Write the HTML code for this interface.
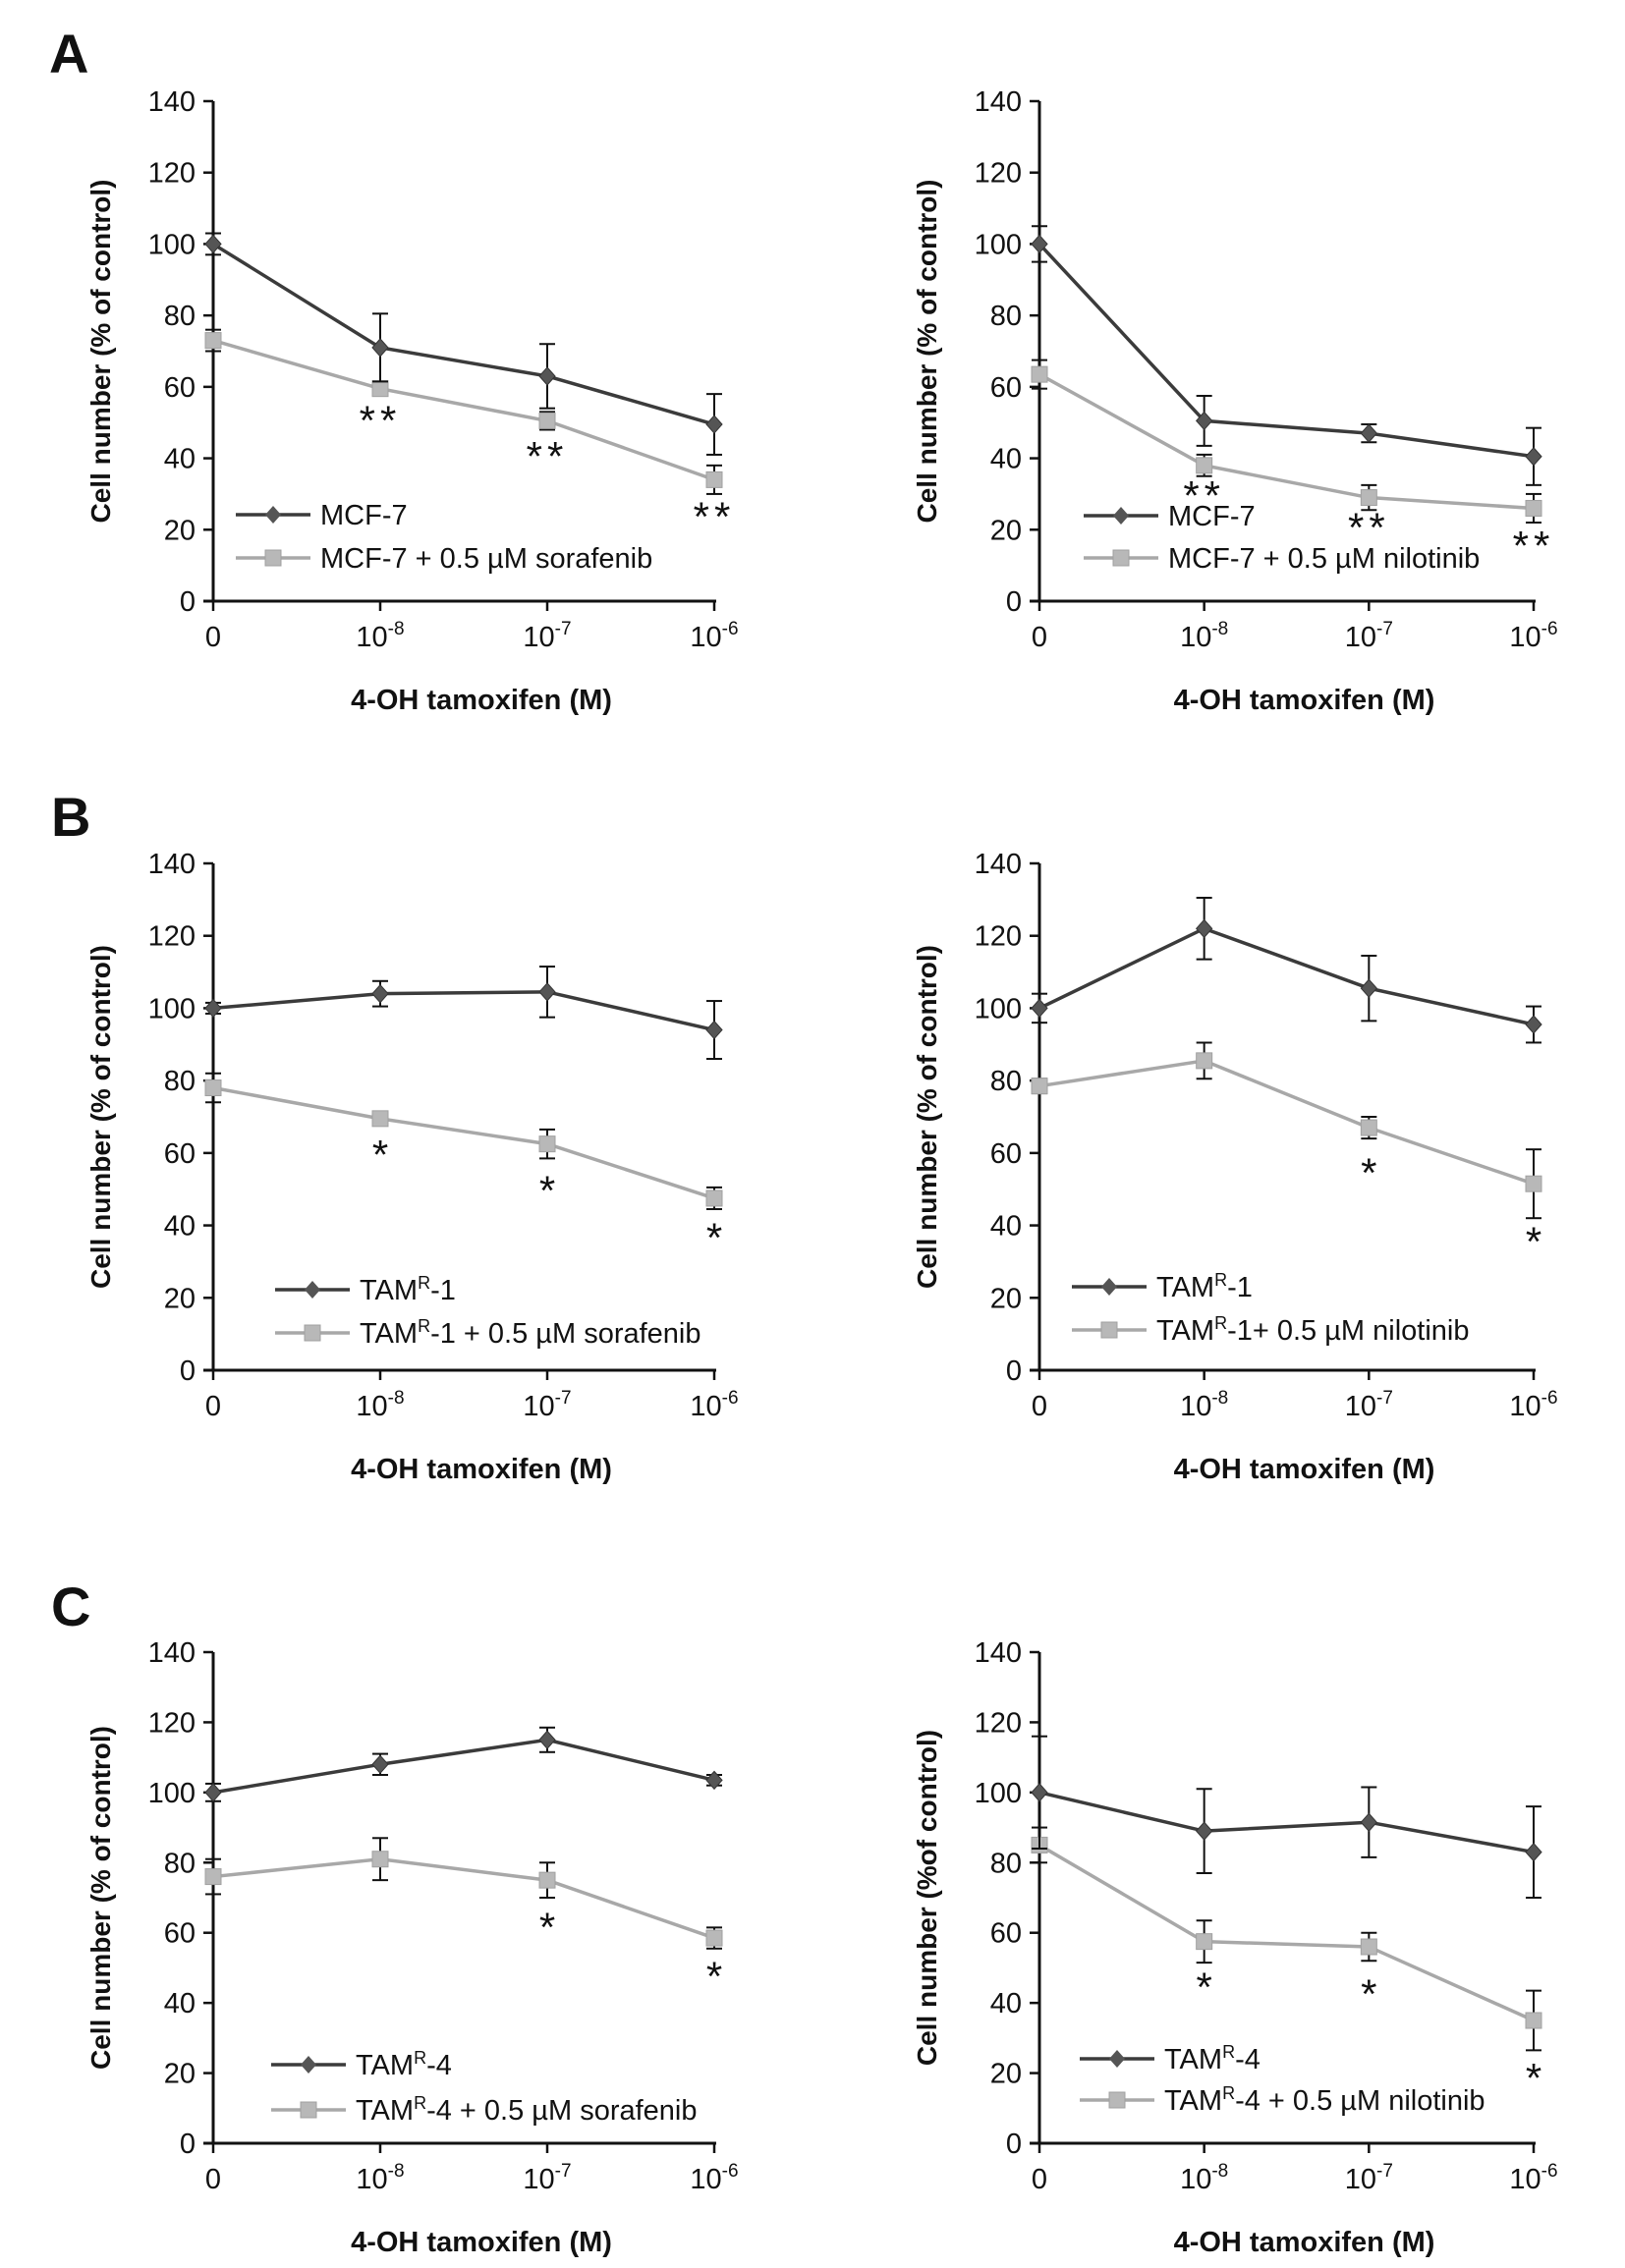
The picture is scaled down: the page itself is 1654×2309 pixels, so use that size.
<!DOCTYPE html>
<html><head><meta charset="utf-8">
<style>
html,body{margin:0;padding:0;background:#fff;}
svg{display:block;font-family:"Liberation Sans",sans-serif;}
</style></head>
<body>
<svg id="fig" width="1654" height="2309" viewBox="0 0 1654 2309" xmlns="http://www.w3.org/2000/svg"></svg>
<script>
// shared categories / ticks
const categories = ["0", "-8", "-7", "-6"];
const yTicks = [0, 20, 40, 60, 80, 100, 120, 140];

// Panel A left
const aL_black = [100, 71, 63, 49.5];
const aL_blackErr = [3, 9.5, 9, 8.5];
const aL_gray = [73, 59.5, 50.5, 34];
const aL_grayErr = [3, 1.5, 2.5, 4];
const aL_stars = [null, 51, 41, 24];
// Panel A right
const aR_black = [100, 50.5, 47, 40.5];
const aR_blackErr = [5, 7, 2.5, 8];
const aR_gray = [63.5, 38, 29, 26];
const aR_grayErr = [4, 3, 3.5, 4];
const aR_stars = [null, 30, 21, 16];
// Panel B left
const bL_black = [100, 104, 104.5, 94];
const bL_blackErr = [1.5, 3.5, 7, 8];
const bL_gray = [78, 69.5, 62.5, 47.5];
const bL_grayErr = [4, 1, 4, 3];
const bL_stars = [null, 60, 50, 37];
// Panel B right
const bR_black = [100, 122, 105.5, 95.5];
const bR_blackErr = [4, 8.5, 9, 5];
const bR_gray = [78.5, 85.5, 67, 51.5];
const bR_grayErr = [2, 5, 3, 9.5];
const bR_stars = [null, null, 55, 36];
// Panel C left
const cL_black = [100, 108, 115, 103.5];
const cL_blackErr = [2.5, 3, 3.5, 1.5];
const cL_gray = [76, 81, 75, 58.5];
const cL_grayErr = [5, 6, 5, 3];
const cL_stars = [null, null, 62, 48];
// Panel C right
const cR_black = [100, 89, 91.5, 83];
const cR_blackErr = [16, 12, 10, 13];
const cR_gray = [85, 57.5, 56, 35];
const cR_grayErr = [5, 6, 4, 8.5];
const cR_stars = [null, 45, 43, 19];

const svg = document.getElementById('fig');
const NS = 'http://www.w3.org/2000/svg';
function mk(tag, attrs, parent){
  const e = document.createElementNS(NS, tag);
  for (const k in attrs) e.setAttribute(k, attrs[k]);
  (parent||svg).appendChild(e);
  return e;
}
const BLACK = '#3b3b3b', GRAY = '#a8a8a8';

function panel(p){
  const g = mk('g', {});
  
  
  const x0 = p.x0, x1 = p.x1, yTop = p.yTop, yBot = p.yBot;
  const xs = i => x0 + (x1 - x0) * i / (categories.length - 1);
  const ys = v => yBot - (yBot - yTop) * v / 140;
  const ya = mk('line', {x1:x0, y1:yTop, x2:x0, y2:yBot, stroke:'#111', 'stroke-width':3}, g);
  
  
  const xa = mk('line', {x1:x0-10, y1:yBot, x2:x1+2, y2:yBot, stroke:'#111', 'stroke-width':3}, g);
  
  
  yTicks.forEach(v => {
    mk('line', {x1:x0-10, y1:ys(v), x2:x0, y2:ys(v), stroke:'#111', 'stroke-width':2.5}, g);
    const t = mk('text', {x:x0-18, y:ys(v)+10, 'text-anchor':'end', 'font-size':29, fill:'#111'}, g);
    t.textContent = v;
    
    
  });
  categories.forEach((c, i) => {
    mk('line', {x1:xs(i), y1:yBot, x2:xs(i), y2:yBot+10, stroke:'#111', 'stroke-width':2.5}, g);
    const t = mk('text', {x:xs(i), y:yBot+46, 'text-anchor':'middle', 'font-size':29, fill:'#111'}, g);
    
    
    if (c === '0') t.textContent = '0';
    else {
      t.textContent = '10';
      const s = mk('tspan', {dy:-12, 'font-size':19}, t);
      s.textContent = c;
    }
  });
  const xt = mk('text', {x:(x0+x1)/2+18, y:yBot+110, 'text-anchor':'middle', 'font-size':29, 'font-weight':'bold', fill:'#111'}, g);
  xt.textContent = '4-OH tamoxifen (M)';
  
  
  const yc = (yTop + yBot) / 2;
  const yt = mk('text', {x:x0-105, y:yc, 'text-anchor':'middle', 'font-size':28, 'font-weight':'bold', fill:'#111', transform:`rotate(-90 ${x0-105} ${yc})`}, g);
  yt.textContent = p.ytitle;
  
  
  function series(vals, errs, color, marker, nm){
    const sg = mk('g', {}, g);
    
    
    vals.forEach((v, i) => {
      const e = errs[i];
      mk('line', {x1:xs(i), y1:ys(v+e), x2:xs(i), y2:ys(v-e), stroke:'#111', 'stroke-width':2}, sg);
      mk('line', {x1:xs(i)-8, y1:ys(v+e), x2:xs(i)+8, y2:ys(v+e), stroke:'#111', 'stroke-width':2}, sg);
      mk('line', {x1:xs(i)-8, y1:ys(v-e), x2:xs(i)+8, y2:ys(v-e), stroke:'#111', 'stroke-width':2}, sg);
    });
    mk('polyline', {points: vals.map((v,i)=>xs(i)+','+ys(v)).join(' '), fill:'none', stroke:color, 'stroke-width':3.5}, sg);
    vals.forEach((v, i) => {
      let m;
      if (marker === 'diamond') m = mk('polygon', {points:`${xs(i)},${ys(v)-9} ${xs(i)+8},${ys(v)} ${xs(i)},${ys(v)+9} ${xs(i)-8},${ys(v)}`, fill:'#555', stroke:'#333', 'stroke-width':1}, sg);
      else m = mk('rect', {x:xs(i)-8, y:ys(v)-8, width:16, height:16, fill:'#b8b8b8', stroke:'#a0a0a0', 'stroke-width':1}, sg);
      
      
    });
  }
  series(p.gray, p.grayErr, GRAY, 'square', 'treated-series');
  series(p.black, p.blackErr, BLACK, 'diamond', 'control-series');
  p.stars.forEach((s, i) => {
    if (s === null) return;
    const t = mk('text', {x:xs(i), y:ys(s)+16, 'text-anchor':'middle', 'font-size':42, fill:'#111', 'letter-spacing':p.star.length>1?5:0}, g);
    t.textContent = p.star;
    
    
  });
  const lg = mk('g', {}, g);
  
  
  [[BLACK, 'diamond', p.leg[0], p.legY[0]], [GRAY, 'square', p.leg[1], p.legY[1]]].forEach(([col, mkr, label, y]) => {
    mk('line', {x1:p.legX, y1:y, x2:p.legX+76, y2:y, stroke:col, 'stroke-width':3.5}, lg);
    const cx = p.legX + 38;
    if (mkr === 'diamond') mk('polygon', {points:`${cx},${y-9} ${cx+8},${y} ${cx},${y+9} ${cx-8},${y}`, fill:'#555'}, lg);
    else mk('rect', {x:cx-8, y:y-8, width:16, height:16, fill:'#b8b8b8', stroke:'#a0a0a0'}, lg);
    const t = mk('text', {x:p.legX+86, y:y+10, 'font-size':29, fill:'#111'}, lg);
    
    
    let prevSup = false;
    label.forEach(([txt, sup]) => {
      let attrs;
      if (sup) attrs = {dy:-11, 'font-size':18};
      else if (prevSup) attrs = {dy:11, 'font-size':29};
      else attrs = {};
      const s = mk('tspan', attrs, t);
      s.textContent = txt;
      prevSup = !!sup;
    });
  });
  if (p.letter) {
    const t = mk('text', {x:p.letterX, y:p.letterY, 'font-size':56, 'font-weight':'bold', fill:'#111'}, svg);
    t.textContent = p.letter;
    
    
  }
}

const YT = 'Cell number (% of control)';
const L = {x0:217, x1:727}, R = {x0:1058, x1:1561};
const A = {yTop:103, yBot:612}, B = {yTop:879, yBot:1395}, C = {yTop:1682, yBot:2182};

panel({name:'chart-a-sorafenib', ...L, ...A, ytitle:YT, black:aL_black, blackErr:aL_blackErr, gray:aL_gray, grayErr:aL_grayErr, stars:aL_stars, star:'**',
  leg:[[['MCF-7']],[['MCF-7 + 0.5 µM sorafenib']]], legX:240, legY:[524, 568], letter:'A', letterX:50, letterY:74});
panel({name:'chart-a-nilotinib', ...R, ...A, ytitle:YT, black:aR_black, blackErr:aR_blackErr, gray:aR_gray, grayErr:aR_grayErr, stars:aR_stars, star:'**',
  leg:[[['MCF-7']],[['MCF-7 + 0.5 µM nilotinib']]], legX:1103, legY:[525, 568]});
panel({name:'chart-b-sorafenib', ...L, ...B, ytitle:YT, black:bL_black, blackErr:bL_blackErr, gray:bL_gray, grayErr:bL_grayErr, stars:bL_stars, star:'*',
  leg:[[['TAM'],['R',1],['-1']],[['TAM'],['R',1],['-1 + 0.5 µM sorafenib']]], legX:280, legY:[1313, 1357], letter:'B', letterX:52, letterY:851});
panel({name:'chart-b-nilotinib', ...R, ...B, ytitle:YT, black:bR_black, blackErr:bR_blackErr, gray:bR_gray, grayErr:bR_grayErr, stars:bR_stars, star:'*',
  leg:[[['TAM'],['R',1],['-1']],[['TAM'],['R',1],['-1+ 0.5 µM nilotinib']]], legX:1091, legY:[1310, 1354]});
panel({name:'chart-c-sorafenib', ...L, ...C, ytitle:YT, black:cL_black, blackErr:cL_blackErr, gray:cL_gray, grayErr:cL_grayErr, stars:cL_stars, star:'*',
  leg:[[['TAM'],['R',1],['-4']],[['TAM'],['R',1],['-4 + 0.5 µM sorafenib']]], legX:276, legY:[2102, 2148], letter:'C', letterX:52, letterY:1655});
panel({name:'chart-c-nilotinib', ...R, ...C, ytitle:'Cell number (%of control)', black:cR_black, blackErr:cR_blackErr, gray:cR_gray, grayErr:cR_grayErr, stars:cR_stars, star:'*',
  leg:[[['TAM'],['R',1],['-4']],[['TAM'],['R',1],['-4 + 0.5 µM nilotinib']]], legX:1099, legY:[2096, 2138]});
</script>
</body></html>
